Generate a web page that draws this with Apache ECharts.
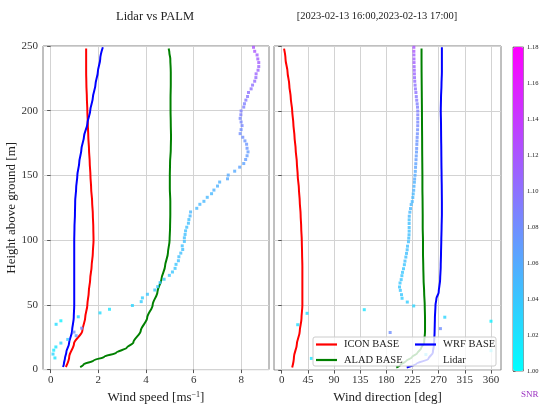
<!DOCTYPE html>
<html>
<head>
<meta charset="utf-8">
<script src="https://cdn.jsdelivr.net/npm/echarts@6/dist/echarts.min.js"></script>
<style>html,body{margin:0;padding:0;background:#fff}#c{width:543px;height:409px}</style>
</head>
<body>
<div id="c"></div>
<script>
// ---- DATA ----
const iconH = [2,10,20,30,40,50,60,70,80,90,100,110,120,130,140,150,160,170,180,190,200,210,220,230,240,248];
const iconSpeed = [0.64,0.78,0.98,1.33,1.45,1.54,1.60,1.66,1.72,1.77,1.80,1.79,1.77,1.74,1.70,1.67,1.64,1.61,1.58,1.56,1.54,1.52,1.50,1.49,1.49,1.49];
const iconDir = [18,21,26,31,34,35.5,35.5,35.5,35.5,35,34.5,33.5,32.5,31,29.5,27.5,26,24,22,20,18,15.5,13,10,6.5,4];

const wrfH = [2,5,8.5,13.6,20,30,40,50,55,60,70,80,90,100,110,120,130,140,150,160,170,180,190,200,210,220,230,240,249];
const wrfSpeed = [0.52,0.56,0.60,0.66,0.77,0.90,0.97,0.99,0.99,0.99,0.99,0.99,0.99,0.99,1.00,1.02,1.03,1.07,1.12,1.20,1.29,1.40,1.54,1.66,1.77,1.88,1.98,2.08,2.19];
const wrfDir = [215,232,252,260,262,263,263.5,264.5,266,270,272.5,273.5,274,274.5,275,275.5,275.5,275.3,275,274.7,274.5,274.2,274,273.6,274,274.8,275.5,275.5,275.5];

const aladH = [2,4,7,10,13,17,21,30,40,50,60,70,80,90,100,110,120,130,140,150,160,170,180,190,200,210,220,230,240,245,248];
const aladSpeed = [1.24,1.38,1.80,2.25,2.75,3.20,3.47,3.78,4.05,4.28,4.48,4.65,4.80,4.92,4.99,5.01,5.02,5.02,5.00,5.00,5.01,5.04,5.05,5.04,5.03,5.03,5.04,5.04,5.02,4.98,4.95];
const aladDir = [197,204,214,224,233,240,245,246.5,246.5,246,245,244,243.5,243,243,242.5,242.5,242.3,242,242,241.8,241.6,241.5,241.3,241.2,241,240.8,240.6,240.5,240.5,240.5];

const lidarH = [9,12,15,17.5,20.5,23.3,26.2,29,32,35,37.7,40.8,43.8,46.6,49.5,
  52.5,55.4,58.2,61.5,64.1,67.2,69.8,72.8,75.4,78.2,81.3,84.1,87.2,90,92.8,95.6,99,
  101.8,104.4,107.2,110,113.1,115.9,118.7,121.8,124.6,127.7,130,133.1,135.9,138.7,141.8,144.9,147.4,150.3,
  153.3,156.4,159.2,162.3,165.2,168.2,171,174.1,176.7,179.5,182.3,185.4,188.5,191.3,194.1,196.9,199.8,
  202.8,205.4,208.2,211,214.1,216.9,219.8,222.8,225.6,228.5,231.3,234.1,237.2,240,243.1,245.9,249];
const lidarSpeed = [0.18,0.10,0.13,0.22,0.43,0.72,1.07,0.98,1.30,0.23,0.43,1.16,2.07,2.47,3.43,
  3.80,3.85,4.06,4.37,4.49,4.59,4.76,4.98,5.11,5.22,5.26,5.36,5.38,5.46,5.54,5.52,5.61,
  5.61,5.64,5.66,5.71,5.78,5.80,5.85,5.87,6.13,6.26,6.43,6.57,6.75,6.85,7.00,7.09,7.42,7.45,
  7.72,7.93,8.10,8.18,8.24,8.28,8.24,8.22,8.15,8.06,7.95,7.99,8.03,7.99,7.95,7.98,7.99,
  8.10,8.13,8.19,8.26,8.30,8.41,8.47,8.56,8.61,8.62,8.70,8.73,8.73,8.69,8.66,8.56,8.51];
const lidarDir = [51,248,360,null,null,null,null,186.5,273,27.5,360,280.5,43.6,142,227,
  216,207,206,204,202.6,203.5,205.5,206.7,207.7,209.5,211,212,213.5,214.6,215.8,216.4,218,
  218.5,219,219.2,219.2,219.2,219.2,219.4,220.4,221.5,222.7,224.5,225.5,226.2,227,227.5,228.2,228.6,229.3,
  229.8,230.2,230.6,231,231.4,231.8,232.1,232.4,232.7,233,233.4,233.7,233.9,234,234,234,234,
  233.6,233,232.2,231.5,230.8,230,229.4,228.8,228.4,228.2,228,227.8,227.6,227.5,227.4,227.3,227.3];
const lidarSNR = [1.02,1.03,1.015,1.02,1.03,1.04,1.07,1.08,1.08,1.025,1.01,1.03,1.025,1.02,1.03,
  1.035,1.035,1.04,1.04,1.04,1.04,1.04,1.04,1.04,1.04,1.04,1.045,1.045,1.045,1.045,1.045,1.045,
  1.045,1.045,1.045,1.045,1.045,1.045,1.05,1.05,1.05,1.05,1.05,1.05,1.05,1.055,1.055,1.055,1.06,1.06,
  1.06,1.065,1.065,1.07,1.07,1.07,1.075,1.075,1.075,1.08,1.08,1.08,1.085,1.085,1.085,1.09,1.09,
  1.09,1.09,1.095,1.095,1.10,1.10,1.10,1.105,1.105,1.11,1.11,1.11,1.115,1.115,1.115,1.12,1.12];

const speedTicks = [0,2,4,6,8];
const dirTicks = [0,45,90,135,180,225,270,315,360];
const heightTicks = [0,50,100,150,200,250];
const snrTicks = [1.00,1.02,1.04,1.06,1.08,1.10,1.12,1.14,1.16,1.18];
const snrMin = 1.00, snrMax = 1.18;

// ---- BUILD ----
const FONT = 'Liberation Serif';
const zip = (xs, ys) => xs.map((x, i) => [x, ys[i]]);
const lidarSpeedPts = lidarH.map((h, i) => [lidarSpeed[i], h, lidarSNR[i]]);
const lidarDirPts = lidarH.map((h, i) => [lidarDir[i], h, lidarSNR[i]]).filter(p => p[0] !== null);

const gridLine = {show: true, lineStyle: {color: '#d3d3d3', width: 1}};
const tickStyle = {show: true, length: 3.5, inside: false, lineStyle: {color: '#555', width: 1}};
const lbl = {color: '#333', fontFamily: FONT, fontSize: 11};

function xAx(idx, min, max, ticks, name) {
  return {
    type: 'value', gridIndex: idx, min: min, max: max,
    axisLine: {show: false},
    axisTick: Object.assign({}, tickStyle, {customValues: ticks}),
    axisLabel: Object.assign({}, lbl, {customValues: ticks, margin: 5}),
    splitLine: gridLine,
    name: name, nameLocation: 'middle', nameGap: 12,
    nameTextStyle: {fontFamily: FONT, fontSize: 13, color: '#222',
      rich: {sup: {fontFamily: FONT, fontSize: 8, color: '#222', verticalAlign: 'top', padding: [0,0,6,0]}}}
  };
}
function yAx(idx, showLabel, name) {
  return {
    type: 'value', gridIndex: idx, min: 0, max: 250,
    axisLine: {show: false},
    axisTick: Object.assign({}, tickStyle, {customValues: heightTicks}),
    axisLabel: Object.assign({}, lbl, {show: showLabel, margin: 5, customValues: heightTicks}),
    splitLine: gridLine,
    name: name || '', nameLocation: 'middle', nameGap: 24,
    nameTextStyle: {fontFamily: FONT, fontSize: 13, color: '#222'}
  };
}

const lineS = (name, xi, xs, ys, color) => ({
  type: 'line', name: name, xAxisIndex: xi, yAxisIndex: xi,
  data: zip(xs, ys), showSymbol: false, smooth: 0.3, smoothMonotone: 'y',
  lineStyle: {color: color, width: 2}, itemStyle: {color: color}, z: 3, silent: true, animation: false
});
const scatS = (xi, pts) => ({
  type: 'scatter', name: 'Lidar', xAxisIndex: xi, yAxisIndex: xi,
  data: pts, symbol: 'rect', symbolSize: 3, z: 4, silent: true, animation: false
});

const baseGraphic = [
  {type: 'rect', shape: {x: 313, y: 337, width: 183, height: 29, r: 2}, z: 15,
   style: {fill: 'rgba(255,255,255,0.8)', stroke: '#cccccc', lineWidth: 1}},
  {type: 'text', left: 521, top: 390, z: 15,
   style: {text: 'SNR', fontFamily: FONT, fontSize: 9, fill: '#9b30c0'}}
];

const option = {
  animation: false,
  backgroundColor: '#fff',
  title: [
    {text: 'Lidar vs PALM', left: 150, top: 5, textAlign: 'center',
     textStyle: {fontFamily: FONT, fontSize: 12.5, fontWeight: 'normal', color: '#222'}},
    {text: '[2023-02-13 16:00,2023-02-13 17:00]', left: 372, top: 6, textAlign: 'center',
     textStyle: {fontFamily: FONT, fontSize: 10.5, fontWeight: 'normal', color: '#222'}}
  ],
  grid: [
    {left: 43, top: 46, width: 226, height: 325, show: true, borderColor: '#808080', borderWidth: 1, backgroundColor: 'transparent'},
    {left: 274, top: 46, width: 227, height: 325, show: true, borderColor: '#808080', borderWidth: 1, backgroundColor: 'transparent'},
    {left: 513, top: 47, width: 10.5, height: 324, show: true, borderColor: '#808080', borderWidth: 1, backgroundColor: 'transparent'}
  ],
  xAxis: [
    xAx(0, -0.32, 9.16, speedTicks, 'Wind speed [ms{sup|−1}]'),
    xAx(1, -13.3, 377.2, dirTicks, 'Wind direction [deg]'),
    {type: 'value', gridIndex: 2, show: false, min: 0, max: 1}
  ],
  yAxis: [
    yAx(0, true, 'Height above ground [m]'),
    yAx(1, false),
    {type: 'value', gridIndex: 2, position: 'right', min: snrMin, max: snrMax,
     axisLine: {show: false}, splitLine: {show: false},
     axisTick: {show: true, length: 2.5, customValues: snrTicks, lineStyle: {color: '#555', width: 0.8}},
     axisLabel: {show: false}}
  ],
  visualMap: {
    type: 'continuous', min: snrMin, max: snrMax, dimension: 2, seriesIndex: [3, 4],
    inRange: {color: ['#00ffff', '#ff00ff']},
    orient: 'vertical', left: 513, top: 47, itemWidth: 10.5, itemHeight: 324,
    padding: 0, calculable: false, text: null, showLabel: false, hoverLink: false, z: 1
  },
  legend: [
    {orient: 'vertical', left: 316, top: 339, itemGap: 4.5, itemWidth: 21, itemHeight: 2.2,
     padding: 0, icon: 'rect', z: 20,
     textStyle: {fontFamily: FONT, fontSize: 10.5, color: '#222', padding: [0,0,0,2]},
     data: ['ICON BASE', 'ALAD BASE'], selectedMode: false},
    {orient: 'vertical', left: 415, top: 339, itemGap: 4.5, itemWidth: 21, itemHeight: 2.2,
     padding: 0, icon: 'rect', z: 20,
     textStyle: {fontFamily: FONT, fontSize: 10.5, color: '#222', padding: [0,0,0,2]},
     data: ['WRF BASE', {name: 'Lidar', itemStyle: {opacity: 0}}], selectedMode: false}
  ],
  graphic: baseGraphic,
  series: [
    lineS('ICON BASE', 0, iconSpeed, iconH, '#ff0000'),
    lineS('ALAD BASE', 0, aladSpeed, aladH, '#008000'),
    lineS('WRF BASE', 0, wrfSpeed, wrfH, '#0000ff'),
    scatS(0, lidarSpeedPts),
    scatS(1, lidarDirPts),
    lineS('ICON BASE', 1, iconDir, iconH, '#ff0000'),
    lineS('ALAD BASE', 1, aladDir, aladH, '#008000'),
    lineS('WRF BASE', 1, wrfDir, wrfH, '#0000ff')
  ]
};
const chart = echarts.init(document.getElementById('c'), null, {renderer: 'canvas'});
chart.setOption(option);
// colorbar tick labels, positioned through the colorbar axis scale
const cbLabels = snrTicks.map(v => {
  const py = chart.convertToPixel({yAxisIndex: 2}, v);
  return {type: 'text', x: 527, y: py, z: 15, silent: true,
    style: {text: v.toFixed(2), fontFamily: FONT, fontSize: 6.5, fill: '#222', verticalAlign: 'middle', align: 'left'}};
});
chart.setOption({graphic: baseGraphic.concat(cbLabels)});
</script>
</body>
</html>
